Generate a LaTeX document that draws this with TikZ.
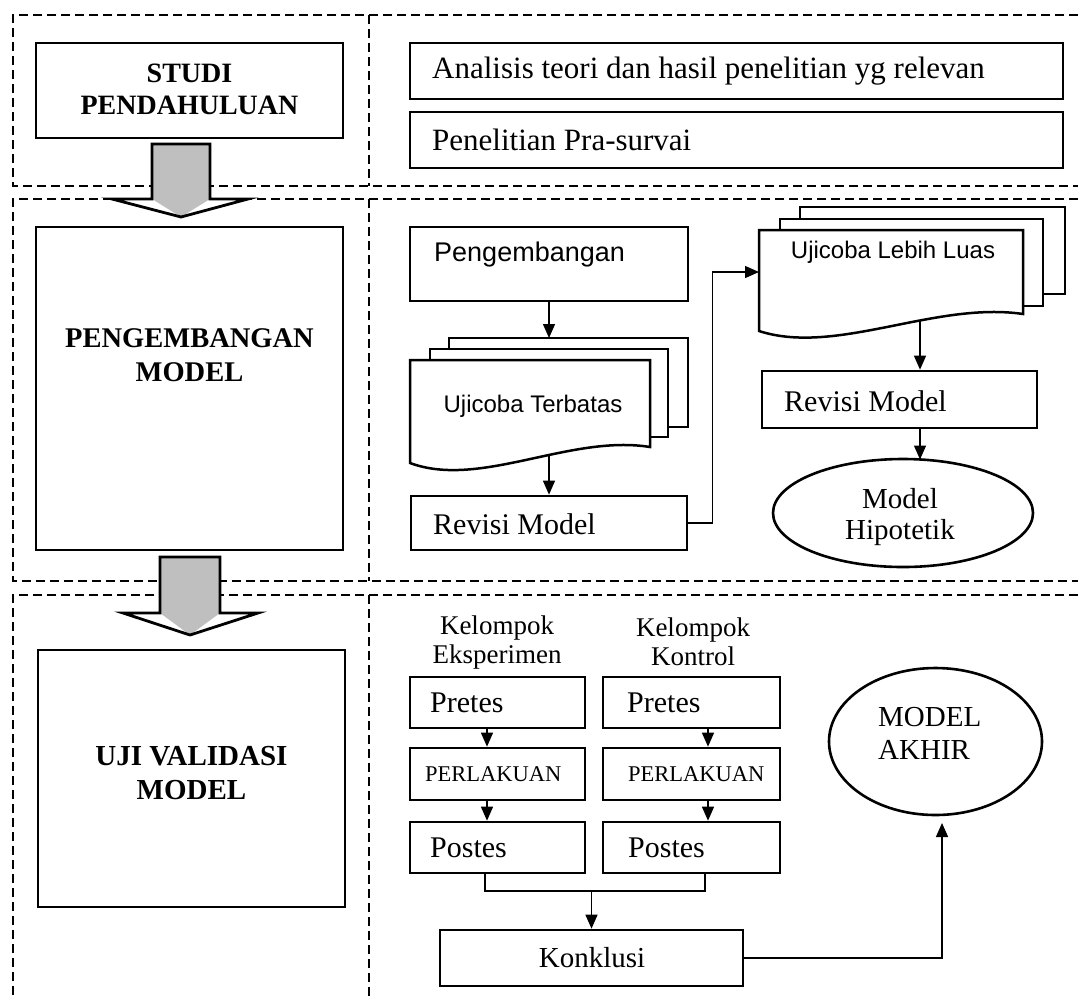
\documentclass[tikz,border=0pt]{standalone}
\usepackage{fontspec}
\setmainfont{Liberation Serif}
\newfontfamily\arialf{Liberation Sans}
\usetikzlibrary{arrows.meta,shapes.geometric}
\newcommand{\myfs}[2]{\fontsize{#1}{#2}\selectfont}
\begin{document}
\begin{tikzpicture}[x=1pt,y=-1pt,
  frame/.style={line width=1.3pt, dash pattern=on 9pt off 5pt},
  bx/.style={draw, line width=2.7pt, rectangle, inner sep=0pt},
  conn/.style={line width=1.4pt},
  arr/.style={conn, -{Triangle[length=14pt,width=12pt]}},
  page/.style={draw, fill=white, line width=2.5pt, line join=miter},
  bigarrow/.style={draw, line width=2.8pt, line join=miter},
  shaft/.style={fill=gray!50},
  oval/.style={draw, ellipse, line width=2.6pt, inner sep=0pt},
  txt/.style={inner sep=0pt},
  ltxt/.style={inner sep=0pt, anchor=west}]
\useasboundingbox[fill=white] (0,0) rectangle (1078,997);

% ---- dashed section frames
\draw[frame] (1078,15) -- (13,15) -- (13,186) -- (1078,186);
\draw[frame] (369,15) -- (369,186);
\draw[frame] (1078,199) -- (13,199) -- (13,581) -- (1078,581);
\draw[frame] (369,199) -- (369,581);
\draw[frame] (1078,595) -- (13,595) -- (13,997);
\draw[frame] (369,595) -- (369,997);

% ---- left column
\node[bx, minimum width=307pt, minimum height=95pt] (studi) at (189.5,90.5) {};
\node[txt, font=\bfseries\myfs{28}{32}, align=center] (studiT) at (189.5,89) {STUDI\\PENDAHULUAN};
\node[bx, minimum width=307pt, minimum height=323pt] (pengem) at (189.5,388.5) {};
\node[txt, font=\bfseries\myfs{28.5}{34}, align=center] (pengemT) at (189.5,355) {PENGEMBANGAN\\MODEL};
\node[bx, minimum width=307pt, minimum height=257pt] (uji) at (191.5,778.5) {};
\node[txt, font=\bfseries\myfs{29}{34}, align=center] (ujiT) at (191.5,773) {UJI VALIDASI\\MODEL};

% big arrows
\fill[white] (152,144) -- (210,144) -- (210,199) -- (248,199) -- (181,217) -- (112,199) -- (152,199) -- cycle;
\fill[shaft] (152,144) -- (210,144) -- (210,199) -- (181,217) -- (152,199) -- cycle;
\draw[bigarrow] (152,144) -- (210,144) -- (210,199) -- (248,199) -- (181,217) -- (112,199) -- (152,199) -- cycle;
\fill[white] (160,557) -- (220,557) -- (220,613) -- (258,613) -- (190,635) -- (123,613) -- (160,613) -- cycle;
\fill[shaft] (160,557) -- (220,557) -- (220,613) -- (190,635) -- (160,613) -- cycle;
\draw[bigarrow] (160,557) -- (220,557) -- (220,613) -- (258,613) -- (190,635) -- (123,613) -- (160,613) -- cycle;

% ---- top right
\node[bx, minimum width=653pt, minimum height=56pt] (ana) at (736.5,71) {};
\node[ltxt, font=\myfs{31}{36}] (anaT) at (432,71) {Analisis teori dan hasil penelitian yg relevan};
\node[bx, minimum width=653pt, minimum height=56pt] (pra) at (736.5,140) {};
\node[ltxt, font=\myfs{31}{36}] (praT) at (432,140) {Penelitian Pra-survai};

% ---- middle right
\node[bx, minimum width=278pt, minimum height=74pt] (peng) at (549,264) {};
\node[ltxt, font=\arialf\myfs{27}{30}] (pengT) at (434,255) {Pengembangan};

\draw[page] (449,338) rectangle (688,427);
\draw[page] (430,349) rectangle (668,437);
\draw[page] (410,360) -- (650,360) -- (650,447) .. controls (570,434) and (480,489) .. (410,463) -- cycle;
\node[txt, font=\arialf\myfs{24}{28}] (terbT) at (533,406) {Ujicoba Terbatas};
\coordinate (terbTop) at (549,338);
\coordinate (terbBot) at (549,455);

\node[bx, minimum width=276pt, minimum height=54pt] (rev1) at (549,523) {};
\node[ltxt, font=\myfs{30}{34}] (rev1T) at (433,524) {Revisi Model};

\draw[page] (800,207) rectangle (1065,294);
\draw[page] (780,219) rectangle (1043,306);
\draw[page] (759,230) -- (1023,230) -- (1023,314) .. controls (935,301) and (836,356) .. (759,331) -- cycle;
\node[txt, font=\arialf\myfs{24}{28}] (lebT) at (893,252) {Ujicoba Lebih Luas};
\coordinate (lebIn) at (759,272);
\coordinate (lebBot) at (920,320);

\node[bx, minimum width=275pt, minimum height=57pt] (rev2) at (899.5,399.5) {};
\node[ltxt, font=\myfs{30}{34}] (rev2T) at (784,401) {Revisi Model};

\node[oval, minimum width=260pt, minimum height=108pt] (hip) at (903,513) {};
\node[txt, font=\myfs{29}{31}, align=center] (hipT) at (900,517) {Model\\Hipotetik};
\coordinate (hipIn) at (920,459.5);

\draw[arr] (peng.south) -- (terbTop);
\draw[arr] (terbBot) -- (rev1.north);
\draw[arr] (rev1.east) -- ++(24,0) |- (lebIn);
\draw[arr] (lebBot) -- (lebBot |- rev2.north);
\draw[arr] (lebBot |- rev2.south) -- (hipIn);

% ---- bottom right
\node[txt, font=\myfs{27}{29}, align=center] (kelE) at (497,642) {Kelompok\\Eksperimen};
\node[txt, font=\myfs{27}{29}, align=center] (kelK) at (693,642) {Kelompok\\Kontrol};

\node[bx, minimum width=175pt, minimum height=51pt] (preL) at (497.5,702.5) {};
\node[bx, minimum width=177pt, minimum height=51pt] (preR) at (691.5,702.5) {};
\node[bx, minimum width=175pt, minimum height=52pt] (perL) at (497.5,774) {};
\node[bx, minimum width=177pt, minimum height=52pt] (perR) at (691.5,774) {};
\node[bx, minimum width=175pt, minimum height=51pt] (posL) at (497.5,847.5) {};
\node[bx, minimum width=177pt, minimum height=51pt] (posR) at (691.5,847.5) {};
\node[ltxt, font=\myfs{30}{34}] (preLT) at (430,703) {Pretes};
\node[ltxt, font=\myfs{30}{34}] (preRT) at (627,703) {Pretes};
\node[ltxt, font=\myfs{22.5}{26}] (perLT) at (425,774) {PERLAKUAN};
\node[ltxt, font=\myfs{22.5}{26}] (perRT) at (628,774) {PERLAKUAN};
\node[ltxt, font=\myfs{30}{34}] (posLT) at (430,848) {Postes};
\node[ltxt, font=\myfs{30}{34}] (posRT) at (628,848) {Postes};

\coordinate (cL) at (487,0);
\coordinate (cR) at (708,0);
\draw[arr] (preL.south -| cL) -- (perL.north -| cL);
\draw[arr] (perL.south -| cL) -- (posL.north -| cL);
\draw[arr] (preR.south -| cR) -- (perR.north -| cR);
\draw[arr] (perR.south -| cR) -- (posR.north -| cR);

\coordinate (jL) at (485,891);
\coordinate (jR) at (705,891);
\coordinate (jM) at (591.5,891);
\draw[conn] (posL.south -| jL) -- (jL) -- (jR) -- (posR.south -| jR);

\node[bx, minimum width=303pt, minimum height=56pt] (konk) at (591.5,958) {};
\node[txt, font=\myfs{29}{33}] (konkT) at (592,958) {Konklusi};
\draw[arr] (jM) -- (konk.north);

\node[oval, minimum width=213pt, minimum height=147pt] (akhir) at (935.5,741.5) {};
\node[ltxt, font=\myfs{29}{33}, align=left] (akhirT) at (878,733.5) {MODEL\\AKHIR};
\coordinate (akIn) at (942,823);
\draw[arr] (konk.east) -| (akIn);
\end{tikzpicture}
\end{document}
